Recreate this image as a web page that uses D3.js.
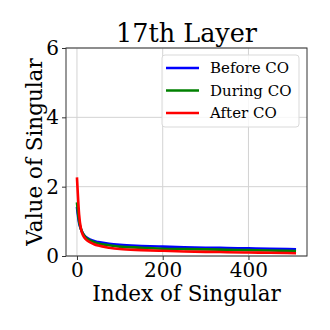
<!DOCTYPE html>
<html>
<head>
<meta charset="utf-8">
<script src="https://cdn.jsdelivr.net/npm/d3@7"></script>
<style>
  body { margin: 0; background: #fff; }
  svg { font-family: "DejaVu Serif", serif; }
</style>
</head>
<body>
<svg id="svg" width="330" height="330"></svg>
<script>
const indices = [0, 2, 5, 10, 15, 20, 30, 40, 50, 75, 100, 150, 200, 250, 300, 350, 400, 450, 511];
const beforeCO = [1.42, 1.2, 0.95, 0.75, 0.63, 0.56, 0.48, 0.43, 0.40, 0.35, 0.32, 0.29, 0.27, 0.25, 0.24, 0.23, 0.22, 0.21, 0.19];
const duringCO = [1.55, 1.3, 1.0, 0.76, 0.62, 0.54, 0.45, 0.40, 0.36, 0.31, 0.27, 0.24, 0.21, 0.20, 0.19, 0.18, 0.17, 0.16, 0.14];
const afterCO = [2.27, 1.8, 1.2, 0.75, 0.58, 0.49, 0.40, 0.34, 0.30, 0.24, 0.20, 0.17, 0.15, 0.13, 0.12, 0.11, 0.10, 0.095, 0.08];
const seriesNames = ['Before CO', 'During CO', 'After CO'];
const colors = ['#0000ff', '#008000', '#ff0000'];
const xTicks = [0, 200, 400];
const yTicks = [0, 2, 4, 6];

const svg = d3.select('svg');
const mLeft = 66, mRight = 307, mTop = 48, mBottom = 256;

const x = d3.scaleLinear().domain([-25.55, 536.55]).range([mLeft, mRight]);
const y = d3.scaleLinear().domain([0, 6]).range([mBottom, mTop]);

// grid
svg.append('g')
	.selectAll('line')
	.data(xTicks)
	.enter()
	.append('line')
	.attr('x1', (d) => x(d)).attr('x2', (d) => x(d))
	.attr('y1', mTop).attr('y2', mBottom)
	.attr('stroke', '#d3d3d3').attr('stroke-width', 1);
svg.append('g')
	.selectAll('line')
	.data(yTicks)
	.enter()
	.append('line')
	.attr('x1', mLeft).attr('x2', mRight)
	.attr('y1', (d) => y(d)).attr('y2', (d) => y(d))
	.attr('stroke', '#d3d3d3').attr('stroke-width', 1);

// lines
const all = [beforeCO, duringCO, afterCO];
const line = d3.line()
	.x((d, i) => x(indices[i]))
	.y((d) => y(d))
	.curve(d3.curveMonotoneX);

all.forEach((vals, k) => {
	svg.append('path')
		.attr('d', line(vals))
		.attr('fill', 'none')
		.attr('stroke', colors[k])
		.attr('stroke-width', 2.6)
		.attr('stroke-linejoin', 'round');
});

// axes
const xAxis = svg.append('g')
	.attr('transform', `translate(0,${mBottom})`)
	.call(d3.axisBottom(x).tickValues(xTicks).tickSize(4).tickPadding(3).tickFormat(d3.format('d')));
const yAxis = svg.append('g')
	.attr('transform', `translate(${mLeft},0)`)
	.call(d3.axisLeft(y).tickValues(yTicks).tickSize(4).tickPadding(3).tickFormat(d3.format('d')));
[xAxis, yAxis].forEach((a) => {
	a.select('.domain').remove();
	a.selectAll('text').attr('font-family', '"DejaVu Serif", serif').attr('font-size', 20).attr('fill', '#000');
	a.selectAll('line').attr('stroke', '#333');
});

// frame
svg.append('rect')
	.attr('x', mLeft).attr('y', mTop)
	.attr('width', mRight - mLeft).attr('height', mBottom - mTop)
	.attr('fill', 'none').attr('stroke', '#333').attr('stroke-width', 1);

// title and labels
svg.append('text')
	.attr('x', (mLeft + mRight) / 2).attr('y', 42)
	.attr('text-anchor', 'middle').attr('font-size', 25.5)
	.text('17th Layer');
svg.append('text')
	.attr('x', (mLeft + mRight) / 2).attr('y', 301)
	.attr('text-anchor', 'middle').attr('font-size', 21.5)
	.text('Index of Singular');
svg.append('text')
	.attr('transform', `translate(42,${(mTop + mBottom) / 2}) rotate(-90)`)
	.attr('text-anchor', 'middle').attr('font-size', 21.5)
	.text('Value of Singular');

// legend
const legend = svg.append('g');
legend.append('rect')
	.attr('x', 162).attr('y', 55).attr('width', 137).attr('height', 72)
	.attr('rx', 3).attr('fill', 'rgba(255,255,255,0.8)')
	.attr('stroke', '#d9d9d9');
seriesNames.forEach((name, k) => {
	const yy = 68 + k * 22.5;
	legend.append('line')
		.attr('x1', 166).attr('x2', 199).attr('y1', yy).attr('y2', yy)
		.attr('stroke', colors[k]).attr('stroke-width', 2.6);
	legend.append('text')
		.attr('x', 210).attr('y', yy + 5).attr('font-size', 15)
		.text(name);
});
</script>
</body>
</html>
